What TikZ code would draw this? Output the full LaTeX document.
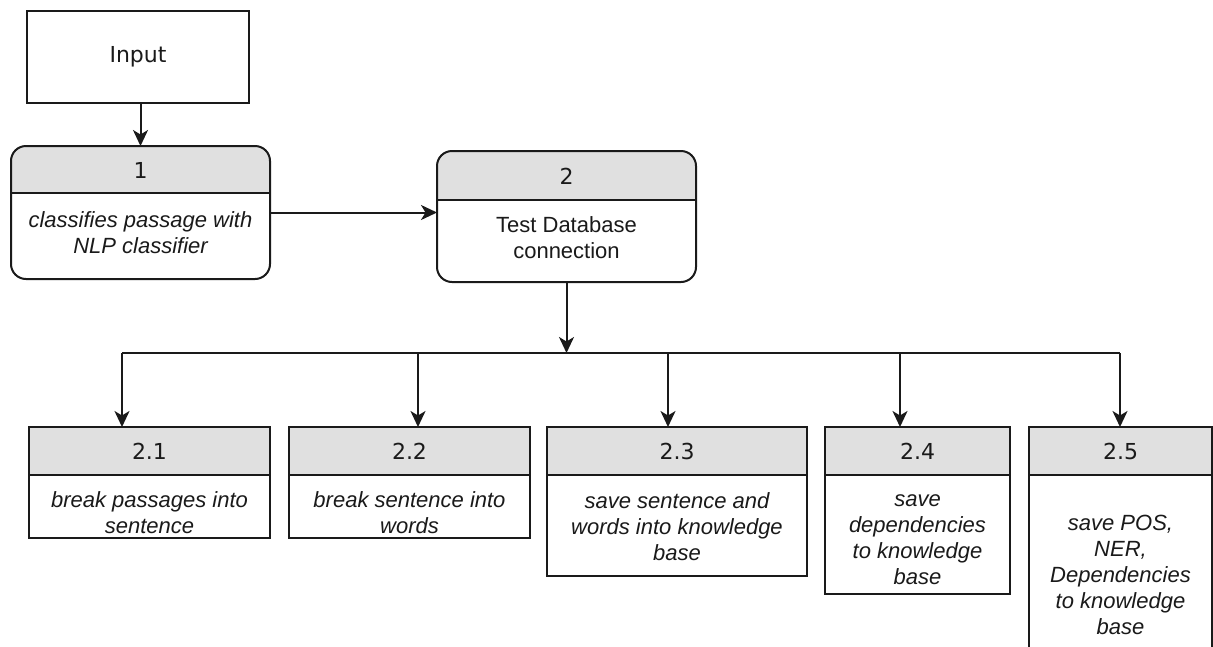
\documentclass[tikz,border=0pt]{standalone}
\usepackage{fontspec}
\setmainfont{Liberation Sans}
\newfontfamily\hdrfont{DejaVu Sans}
\usetikzlibrary{arrows.meta}
\definecolor{hdrgray}{HTML}{E0E0E0}
\definecolor{ink}{HTML}{1A1A1A}
\tikzset{
  frame/.style={draw=ink, line width=2pt, inner sep=0pt, outer sep=0pt},
  hdrlabel/.style={inner sep=0pt, text=ink, font=\hdrfont\fontsize{22}{26}\selectfont},
  bodylabel/.style={inner sep=0pt, align=center, text=ink, font=\itshape\fontsize{22}{26}\selectfont},
  plainlabel/.style={inner sep=0pt, align=center, text=ink, font=\fontsize{22}{26}\selectfont},
  wire/.style={draw=ink, line width=2pt},
  flow/.style={draw=ink, line width=2pt, -{Stealth[length=16pt,width=15pt,inset=4.5pt]}},
}
\begin{document}
\begin{tikzpicture}[x=1pt, y=-1pt]
\useasboundingbox (0,0) rectangle (1213,646);
\clip (0,0) rectangle (1213,646);
\fill[white] (0,0) rectangle (1213,646);

% input block
\node[frame, minimum width=222pt, minimum height=92pt, anchor=north west, hdrlabel] (inp) at (27,11) {Input};

% step 1 (rounded)
\begin{scope}
  \clip[rounded corners=15pt] (11,146) rectangle (270,279);
  \fill[hdrgray] (11,146) rectangle (270,193);
\end{scope}
\node[frame, rounded corners=15pt, minimum width=259pt, minimum height=133pt, anchor=north west] (p1) at (11,146) {};
\draw[wire] (11,193) -- (270,193);
\node[hdrlabel] (p1h) at (140.5,170) {1};
\node[bodylabel] (p1t) at (140.5,233) {classifies passage with\\NLP classifier};

% step 2 (rounded)
\begin{scope}
  \clip[rounded corners=15pt] (437,151) rectangle (696,282);
  \fill[hdrgray] (437,151) rectangle (696,200);
\end{scope}
\node[frame, rounded corners=15pt, minimum width=259pt, minimum height=131pt, anchor=north west] (p2) at (437,151) {};
\draw[wire] (437,200) -- (696,200);
\node[hdrlabel] (p2h) at (566.5,176) {2};
\node[plainlabel] (p2t) at (566.5,238) {Test Database\\connection};

% sub-steps: header strip + body
\node[frame, fill=hdrgray, minimum width=241pt, minimum height=48pt, anchor=north west, hdrlabel] (h21) at (29,427) {2.1};
\node[frame, minimum width=241pt, minimum height=63pt, anchor=north] (b21) at (h21.south) {};
\node[bodylabel] (t21) at (149.5,513) {break passages into\\sentence};

\node[frame, fill=hdrgray, minimum width=241pt, minimum height=48pt, anchor=north west, hdrlabel] (h22) at (289,427) {2.2};
\node[frame, minimum width=241pt, minimum height=63pt, anchor=north] (b22) at (h22.south) {};
\node[bodylabel] (t22) at (409.5,513) {break sentence into\\words};

\node[frame, fill=hdrgray, minimum width=260pt, minimum height=48pt, anchor=north west, hdrlabel] (h23) at (547,427) {2.3};
\node[frame, minimum width=260pt, minimum height=101pt, anchor=north] (b23) at (h23.south) {};
\node[bodylabel] (t23) at (677,527) {save sentence and\\words into knowledge\\base};

\node[frame, fill=hdrgray, minimum width=185pt, minimum height=48pt, anchor=north west, hdrlabel] (h24) at (825,427) {2.4};
\node[frame, minimum width=185pt, minimum height=119pt, anchor=north] (b24) at (h24.south) {};
\node[bodylabel] (t24) at (917.5,540) {save\\dependencies\\to knowledge\\base};

\node[frame, fill=hdrgray, minimum width=183pt, minimum height=48pt, anchor=north west, hdrlabel] (h25) at (1029,427) {2.5};
\node[frame, minimum width=183pt, minimum height=199pt, anchor=north] (b25) at (h25.south) {};
\node[bodylabel] (t25) at (1120.5,575) {save POS,\\NER,\\Dependencies\\to knowledge\\base};

% connectors
\draw[flow] (inp.south -| p1.north) -- (p1.north);
\draw[flow] (p1.east) -- (p1.east -| p2.west);

\coordinate (bus) at (566.5,353);
\coordinate (d1) at (122,353);
\coordinate (d2) at (418,353);
\coordinate (d3) at (668,353);
\coordinate (d4) at (900,353);
\coordinate (d5) at (1120,353);

\draw[flow] (p2.south) -- (bus);
\draw[wire] (d1) -- (d5);
\draw[flow] (d1) -- (d1 |- h21.north);
\draw[flow] (d2) -- (d2 |- h22.north);
\draw[flow] (d3) -- (d3 |- h23.north);
\draw[flow] (d4) -- (d4 |- h24.north);
\draw[flow] (d5) -- (d5 |- h25.north);
\end{tikzpicture}
\end{document}
